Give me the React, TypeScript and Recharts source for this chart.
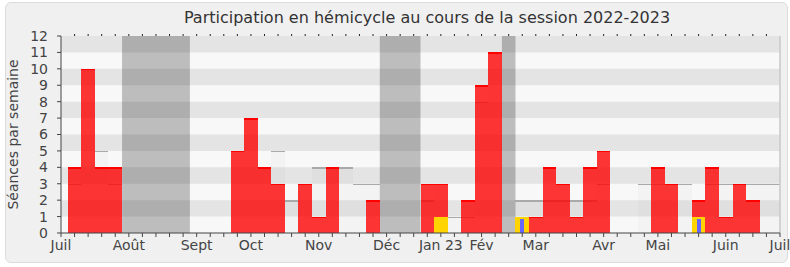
import React from "react";
import {
  ComposedChart,
  Bar,
  XAxis,
  YAxis,
  ReferenceArea,
  ReferenceLine,
} from "recharts";

// one entry per week, from early July 2022 to late June 2023
const WEEKS = Array.from({ length: 53 }, (_, i) => i + 0.5);
const SEANCES = [
  4, 10, 4, 4, 0, 0, 0, 0, 0, 0, 0, 0, 5, 7, 4, 3, 0, 3, 1, 4, 0, 0, 2, 0, 0, 0,
  3, 3, 0, 2, 9, 11, 0, 0, 1, 4, 3, 1, 4, 5, 0, 0, 0, 4, 3, 0, 2, 4, 1, 3, 2, 0, 0,
];
const MEDIANE = [
  3, 10, 5, 3, null, null, null, null, null, 0, 0, 0, 5, 7, 4, 5, 2, 3, 4, 4, 4,
  3, 3, null, null, null, 2, 3, 1, 1, 8, 11, null, 2, 2, 2, 2, 2, 2, 3, 0, 0, 3,
  3, 3, 3, 2, 3, 3, 3, 3, 3, 3,
];
const QUESTIONS = [
  0, 0, 0, 0, 0, 0, 0, 0, 0, 0, 0, 0, 0, 0, 0, 0, 0, 0, 0, 0, 0, 0, 0, 0, 0, 0,
  0, 1, 0, 0, 0, 0, 0, 1, 0, 0, 0, 0, 0, 0, 0, 0, 0, 0, 0, 0, 1, 0, 0, 0, 0, 0, 0,
];
const INTERVENTIONS = [
  0, 0, 0, 0, 0, 0, 0, 0, 0, 0, 0, 0, 0, 0, 0, 0, 0, 0, 0, 0, 0, 0, 0, 0, 0, 0,
  0, 0, 0, 0, 0, 0, 0, 0.85, 0, 0, 0, 0, 0, 0, 0, 0, 0, 0, 0, 0, 0.85, 0, 0, 0, 0,
  0, 0,
];
// parliamentary breaks, [first week, week after]
const VACANCES = [
  [4, 9],
  [23, 26],
  [32, 33],
];
const MONTH_TICKS = [-0.5, 4.5, 9.5, 13.5, 18.5, 23.5, 27.5, 30.5, 34.5, 39.5, 43.5, 48.5, 52.5];
const MONTH_LABELS = ["Juil", "Août", "Sept", "Oct", "Nov", "Déc", "Jan 23", "Fév", "Mar", "Avr", "Mai", "Juin", "Juil"];
const Y_TICKS = [0, 1, 2, 3, 4, 5, 6, 7, 8, 9, 10, 11, 12];

const data = WEEKS.map((x, i) => ({
  x,
  seances: SEANCES[i],
  mediane: MEDIANE[i],
  questions: QUESTIONS[i],
  interventions: INTERVENTIONS[i],
}));

const WEEK_TICKS = [-0.5, ...WEEKS, 52.5].filter((v, i, a) => a.indexOf(v) === i);
const DOMAIN: [number, number] = [-0.5, 52.5];

const W = 790;
const H = 267;
const MARGIN = { top: 33, right: 10, bottom: 4, left: 0 };
const Y_WIDTH = 61;
const WEEK_PX = (W - MARGIN.left - MARGIN.right - Y_WIDTH) / (DOMAIN[1] - DOMAIN[0]);
const FONT = "'DejaVu Sans', Verdana, sans-serif";

const RedBar = (props: any) => {
  const { x, y, width, height } = props;
  if (!height || height <= 0) return <g />;
  return (
    <g shapeRendering="crispEdges">
      <rect x={x} y={y} width={width} height={height} fill="#ff0000" fillOpacity={0.79} />
      <rect x={x} y={y} width={width} height={1.5} fill="#ff0000" />
    </g>
  );
};

const MedianBar = (props: any) => {
  const { x, y, width, height } = props;
  if (!height || height <= 0) return <g />;
  return (
    <g shapeRendering="crispEdges">
      <rect x={x} y={y} width={width} height={height} fill="#000" fillOpacity={0.02} />
      <rect x={x} y={y} width={width} height={1.5} fill="#a9a9a9" />
    </g>
  );
};

const PlainBar = (props: any) => {
  const { x, y, width, height, fill } = props;
  if (!height || height <= 0) return <g />;
  return <rect x={x} y={y} width={width} height={height} fill={fill} shapeRendering="crispEdges" />;
};

const hiddenAxis = (id: string) => (
  <XAxis
    xAxisId={id}
    dataKey="x"
    type="number"
    domain={DOMAIN}
    ticks={WEEK_TICKS}
    allowDataOverflow
    height={0}
    hide
  />
);

export default function App() {
  return (
    <div style={{ position: "absolute", left: 0, top: 0, width: W, height: H, background: "#fff", fontFamily: FONT }}>
      <div
        style={{
          position: "absolute",
          left: 5,
          top: 2,
          width: 781,
          height: 259,
          border: "1px solid #dcdcdc",
          borderRadius: 6,
          background: "#f0f0f0",
        }}
      />
      <div
        style={{
          position: "absolute",
          left: 427,
          top: 8,
          transform: "translateX(-50%)",
          whiteSpace: "nowrap",
          fontSize: 16,
          color: "#333",
        }}
      >
        Participation en hémicycle au cours de la session 2022-2023
      </div>
      <div style={{ position: "absolute", left: 0, top: 0 }}>
        <ComposedChart width={W} height={H} data={data} margin={MARGIN} barGap={0} barCategoryGap={0}>
          {hiddenAxis("med")}
          {hiddenAxis("red")}
          {hiddenAxis("yel")}
          {hiddenAxis("blu")}
          <XAxis
            xAxisId="main"
            dataKey="x"
            type="number"
            domain={DOMAIN}
            ticks={WEEK_TICKS}
            interval={0}
            height={30}
            tickSize={4}
            tickMargin={3}
            stroke="#444"
            tick={{ fill: "#444", fontSize: 14, fontFamily: FONT }}
            tickFormatter={(v: number) => {
              const k = MONTH_TICKS.indexOf(v);
              return k >= 0 ? MONTH_LABELS[k] : "";
            }}
          />
          <XAxis
            xAxisId="top"
            orientation="top"
            dataKey="x"
            type="number"
            domain={DOMAIN}
            ticks={WEEK_TICKS.slice(1, -1)}
            interval={0}
            height={3}
            axisLine={false}
            tickSize={2}
            tickMargin={0}
            tickLine={{ stroke: "#222", strokeWidth: 1 }}
            tick={{ fontSize: 1 }}
            tickFormatter={() => ""}
          />
          <YAxis
            type="number"
            domain={[0, 12]}
            ticks={Y_TICKS}
            interval={0}
            width={Y_WIDTH}
            tickSize={4}
            tickMargin={9}
            stroke="#444"
            tick={{ fill: "#444", fontSize: 14, fontFamily: FONT }}
            label={{
              value: "Séances par semaine",
              angle: -90,
              position: "center",
              dx: -17,
              style: { fill: "#444", fontSize: 14, fontFamily: FONT },
            }}
          />
          <ReferenceArea xAxisId="main" x1={DOMAIN[0]} x2={DOMAIN[1]} y1={0} y2={12} fill="#f8f8f8" fillOpacity={1} stroke="none" />
          {VACANCES.map(([a, b], i) => (
            <ReferenceArea key={`v${i}`} xAxisId="main" x1={a} x2={b} y1={0} y2={12} fill="#bdbdbd" fillOpacity={1} stroke="none" />
          ))}
          {Y_TICKS.filter((t) => t % 2 === 1).map((t) => (
            <ReferenceArea key={`b${t}`} xAxisId="main" x1={DOMAIN[0]} x2={DOMAIN[1]} y1={t} y2={t + 1} fill="#000" fillOpacity={0.08} stroke="none" />
          ))}
          <ReferenceLine xAxisId="main" x={DOMAIN[1]} stroke="#c8c8c8" strokeWidth={1.5} />
          <Bar xAxisId="med" dataKey="mediane" barSize={WEEK_PX - 0.01} shape={<MedianBar />} isAnimationActive={false} />
          <Bar xAxisId="red" dataKey="seances" barSize={WEEK_PX - 0.01} shape={<RedBar />} isAnimationActive={false} />
          <Bar xAxisId="yel" dataKey="questions" barSize={WEEK_PX - 0.01} fill="#ffd400" shape={<PlainBar />} isAnimationActive={false} />
          <Bar xAxisId="blu" dataKey="interventions" barSize={4} fill="#6666ff" shape={<PlainBar />} isAnimationActive={false} />
        </ComposedChart>
      </div>
    </div>
  );
}
